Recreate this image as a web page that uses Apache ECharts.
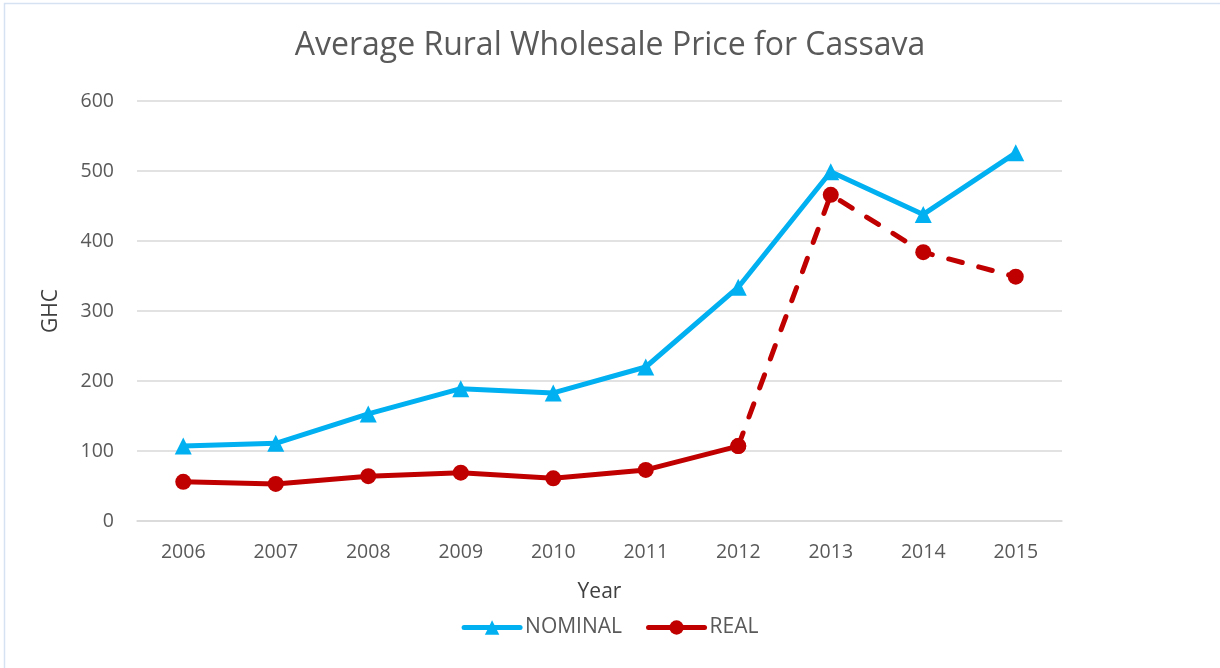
<!DOCTYPE html>
<html><head><meta charset="utf-8">
<script src="https://cdn.jsdelivr.net/npm/echarts@6/dist/echarts.min.js"></script>
<style>html,body{margin:0;padding:0;background:#fff}#c{width:1220px;height:668px}</style>
</head><body><div id="c"></div>
<script>
const years = ['2006','2007','2008','2009','2010','2011','2012','2013','2014','2015'];
const nominal = [107, 111, 153, 189, 183, 220, 334, 499, 438, 526];
const realSolid = [56, 53, 64, 69, 61, 73, 107, null, null, null];
const realDashed = [null, null, null, null, null, null, 107, 466, 384, 349];
const yTicks = [0, 100, 200, 300, 400, 500, 600];

const font = '"Open Sans", "Liberation Sans", sans-serif';
const txt = '#595959';
const chart = echarts.init(document.getElementById('c'), null, {renderer: 'canvas'});
chart.setOption({
  animation: false,
  backgroundColor: '#fff',
  graphic: [{type: 'rect', shape: {x: 4.5, y: 3.5, width: 1220, height: 670}, style: {fill: 'none', stroke: '#d6e2f2', lineWidth: 1.5}, silent: true}],
  title: {text: 'Average Rural Wholesale Price for Cassava', left: 'center', top: 25,
    textStyle: {fontFamily: font, fontSize: 32, fontWeight: 'normal', color: txt}},
  grid: {left: 137, right: 158, top: 101, bottom: 147, containLabel: false},
  legend: {data: ['NOMINAL', 'REAL'], bottom: 25, left: 'center', itemWidth: 56, itemHeight: 18, itemGap: 24,
    lineStyle: {width: 5},
    textStyle: {fontFamily: font, fontSize: 21, color: txt}},
  xAxis: {type: 'category', data: years, boundaryGap: true,
    name: 'Year', nameLocation: 'middle', nameGap: 61,
    nameTextStyle: {fontFamily: font, fontSize: 21, color: '#404040'},
    axisLine: {lineStyle: {color: '#d9d9d9', width: 1.5}}, axisTick: {show: false},
    axisLabel: {fontFamily: font, fontSize: 19.5, color: txt, margin: 21}},
  yAxis: {type: 'value', min: yTicks[0], max: yTicks[yTicks.length-1], interval: 100,
    name: 'GHC', nameLocation: 'middle', nameGap: 75, nameRotate: 90,
    nameTextStyle: {fontFamily: font, fontSize: 21, color: '#404040'},
    axisLine: {show: false}, axisTick: {show: false},
    axisLabel: {fontFamily: font, fontSize: 19.5, color: txt, margin: 23},
    splitLine: {lineStyle: {color: '#d9d9d9', width: 1.5}}},
  series: [
    {name: 'NOMINAL', type: 'line', data: nominal, symbol: 'triangle', symbolSize: 17,
      lineStyle: {color: '#00B0F0', width: 5, cap: 'round', join: 'round'},
      itemStyle: {color: '#00B0F0'}, z: 3},
    {name: 'REAL', type: 'line', data: realSolid, symbol: 'circle', symbolSize: 16,
      lineStyle: {color: '#C00000', width: 5, cap: 'round', join: 'round'},
      itemStyle: {color: '#C00000'}, z: 4},
    {name: 'REAL', type: 'line', data: realDashed, symbol: 'circle', symbolSize: 16,
      lineStyle: {color: '#C00000', width: 5, type: [14, 17], cap: 'round'},
      itemStyle: {color: '#C00000'}, z: 4}
  ]
});
</script></body></html>
